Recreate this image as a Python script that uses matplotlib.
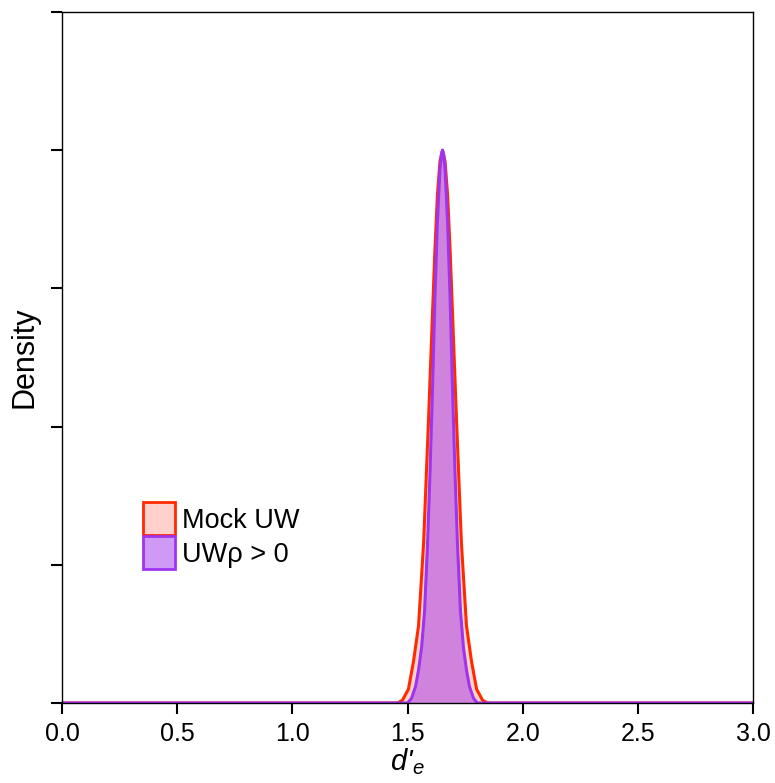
import matplotlib
matplotlib.use("Agg")
import matplotlib.pyplot as plt
from matplotlib.patches import Patch

plt.rcParams['font.family'] = ['Liberation Sans', 'DejaVu Sans']
plt.rcParams['mathtext.fontset'] = 'custom'
plt.rcParams['mathtext.it'] = 'Liberation Sans:italic'
plt.rcParams['mathtext.rm'] = 'Liberation Sans'

# density curves (peak scaled to 1)
mock_x = [0.0, 1.457, 1.478, 1.504, 1.526, 1.548, 1.570, 1.591, 1.609, 1.619, 1.630, 1.641,
          1.652, 1.663, 1.674, 1.685, 1.695, 1.713, 1.734, 1.756, 1.778, 1.800, 1.826, 1.847, 3.0]
mock_y = [0.0, 0.0, 0.005, 0.025, 0.075, 0.14, 0.29, 0.51, 0.71, 0.82, 0.92, 0.98,
          1.0, 0.98, 0.92, 0.82, 0.71, 0.51, 0.29, 0.14, 0.075, 0.025, 0.005, 0.0, 0.0]

uw_x = [0.0, 1.500, 1.517, 1.535, 1.548, 1.561, 1.574, 1.587, 1.598, 1.609, 1.619, 1.630, 1.641,
        1.647, 1.652, 1.657, 1.663, 1.674, 1.685, 1.695, 1.706, 1.717, 1.730, 1.743, 1.756, 1.769,
        1.787, 1.804, 3.0]
uw_y = [0.0, 0.0, 0.008, 0.03, 0.06, 0.10, 0.166, 0.288, 0.421, 0.575, 0.732, 0.871, 0.966,
        0.992, 1.0, 0.992, 0.966, 0.871, 0.732, 0.575, 0.421, 0.288, 0.166, 0.10, 0.06, 0.03,
        0.008, 0.0, 0.0]

labels = ["Mock UW", "UWρ > 0"]
line_colors = ["#ff2a00", "#a033ee"]
fill_colors = ["#ffd0cc", "#cf99f6"]

fig = plt.figure(figsize=(7.75, 7.83), dpi=100)
ax = fig.add_axes([62 / 775, 1 - 703 / 783, 691 / 775, 691 / 783])

# red underneath, purple on top
ax.fill_between(mock_x, mock_y, 0, color=line_colors[0], alpha=0.2, lw=0)
ax.plot(mock_x, mock_y, color=line_colors[0], lw=2.2)
ax.fill_between(uw_x, uw_y, 0, color=line_colors[1], alpha=0.5, lw=0)
ax.plot(uw_x, uw_y, color=line_colors[1], lw=2.2)

ax.set_xlim(0, 3.0)
ax.set_ylim(0, 1.25)
ax.set_xticks([0.0, 0.5, 1.0, 1.5, 2.0, 2.5, 3.0])
ax.set_xticklabels(["0.0", "0.5", "1.0", "1.5", "2.0", "2.5", "3.0"], fontsize=18)
ax.set_yticks([0, 0.25, 0.5, 0.75, 1.0, 1.25])
ax.set_yticklabels([])
ax.tick_params(axis='both', direction='out', length=8, width=1.5)
ax.tick_params(axis='x', pad=6)
for s in ax.spines.values():
    s.set_linewidth(1)
    s.set_color('black')

ax.set_xlabel("d'$_e$", fontsize=21, fontstyle='italic', labelpad=0)
ax.set_ylabel("Density", fontsize=22, labelpad=5)

handles = [Patch(facecolor=fill_colors[i], edgecolor=line_colors[i], lw=2) for i in range(2)]
ax.legend(handles, labels, loc='center left', bbox_to_anchor=(0.101, 0.242), frameon=False,
          fontsize=19.5, handlelength=1.2, handleheight=1.5, handletextpad=0.25,
          labelspacing=0.05, borderaxespad=0)

fig.savefig("out.png", dpi=100)
